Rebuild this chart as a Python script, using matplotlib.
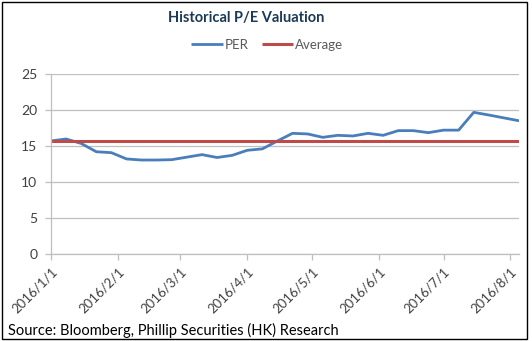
import matplotlib
matplotlib.use("Agg")
import matplotlib.pyplot as plt
import pandas as pd
from matplotlib.patches import Rectangle

plt.rcParams['font.family'] = ['Lato', 'DejaVu Sans']

# weekly P/E readings, 2016
dates = pd.date_range("2016-01-01", periods=32, freq="7D")
per = [15.7, 15.97, 15.35, 14.2, 14.07, 13.2, 13.05, 13.05,
       13.1, 13.45, 13.8, 13.4, 13.7, 14.4, 14.6, 15.7,
       16.76, 16.67, 16.2, 16.48, 16.39, 16.76, 16.48, 17.13,
       17.13, 16.85, 17.2, 17.2, 19.67, 19.3, 18.9, 18.5]
average = [15.76] * len(dates)

month_ticks = pd.date_range("2016-01-01", "2016-08-01", freq="MS")
tick_labels = [f"{d.year}/{d.month}/{d.day}" for d in month_ticks]

fig = plt.figure(figsize=(5.32, 3.41), dpi=100)
ax = fig.add_axes([0.0959, 0.2551, 0.8797, 0.528])

ax.plot(dates, per, color="#4A7EBB", lw=2.0, label="PER", solid_capstyle="butt")
ax.plot(dates, average, color="#BE4B48", lw=2.2, label="Average", solid_capstyle="butt")

ax.set_xlim(dates[0], dates[-1])
ax.set_ylim(0, 25)
ax.set_yticks([0, 5, 10, 15, 20, 25])
ax.set_xticks(month_ticks)
ax.set_xticklabels(tick_labels, rotation=45, ha="right", va="top",
                   rotation_mode="anchor")

ax.grid(axis="y", color="#BFBFBF", lw=0.9)
ax.set_axisbelow(True)
for side in ["top", "right"]:
    ax.spines[side].set_visible(False)
for side in ["left", "bottom"]:
    ax.spines[side].set_color("#BFBFBF")
    ax.spines[side].set_linewidth(0.9)

ax.tick_params(axis="y", length=4, width=0.9, color="#BFBFBF", pad=6,
               labelsize=10, labelcolor="#404040")
ax.tick_params(axis="x", length=4, width=0.9, color="#BFBFBF", pad=4,
               labelsize=9.5, labelcolor="#404040")

fig.text(0.463, 0.948, "Historical P/E Valuation", ha="center", va="center",
         fontsize=10.5, fontweight="bold", color="#1B3A57")

fig.legend(loc="center", bbox_to_anchor=(0.502, 0.868), ncol=2, frameon=False,
           fontsize=9.5, handlelength=2.4, handletextpad=0.1, columnspacing=1.0,
           labelcolor="#595959")

fig.text(0.015, 0.032, "Source: Bloomberg, Phillip Securities (HK) Research",
         ha="left", va="center", fontsize=10.5, color="black")

fig.patches.append(Rectangle((0.004, 0.006), 0.987, 0.988, transform=fig.transFigure,
                             fill=False, edgecolor="black", lw=1.0))

fig.savefig("out.png", dpi=100)
